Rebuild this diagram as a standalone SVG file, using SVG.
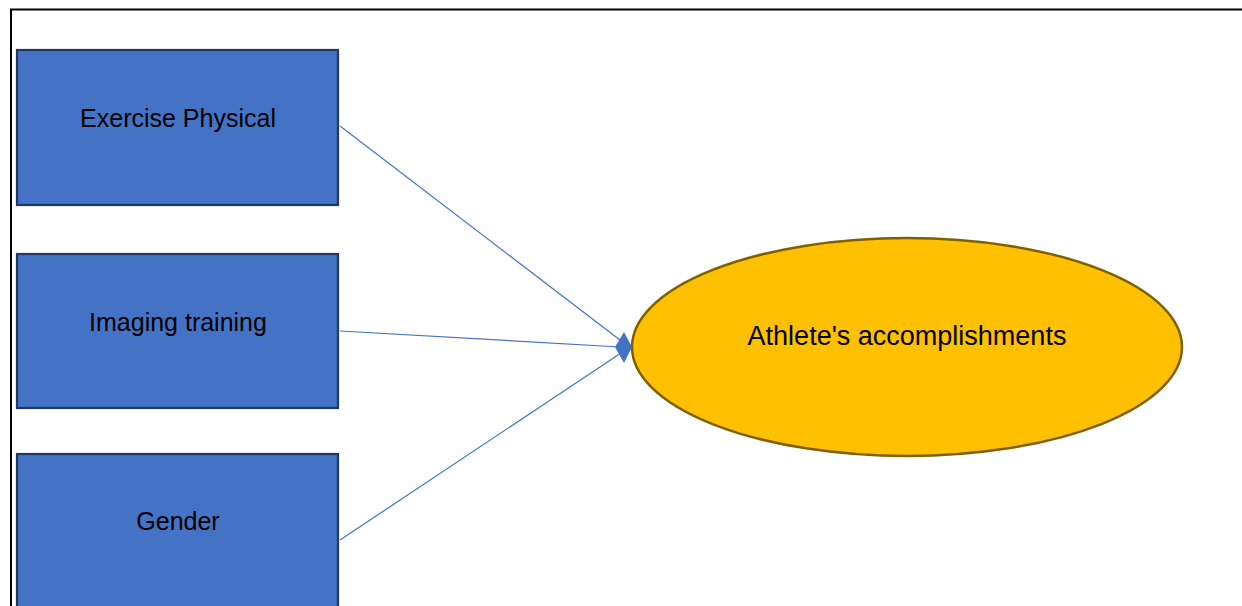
<svg xmlns="http://www.w3.org/2000/svg" width="1242" height="606" viewBox="0 0 1242 606">
<style>
.box{fill:#4472C4;stroke:#1F3864;stroke-width:2.2}
.lbl{font-family:"Liberation Sans",Arial,sans-serif;font-size:25px;fill:#000;text-anchor:middle}
.conn{stroke:#4472C4;stroke-width:1.2;fill:none}
</style>
<rect x="0" y="0" width="1242" height="606" fill="#fff"/>
<path d="M11 606 V9.5 H1242" fill="none" stroke="#000" stroke-width="2"/>
<g id="exercise">
<rect class="box" x="17" y="50" width="321" height="155"/>
<text class="lbl" x="178" y="127">Exercise Physical</text>
</g>
<g id="imaging">
<rect class="box" x="17" y="254" width="321" height="154"/>
<text class="lbl" x="178" y="331">Imaging training</text>
</g>
<g id="gender">
<rect class="box" x="17" y="454" width="321" height="160"/>
<text class="lbl" x="178" y="530">Gender</text>
</g>
<g id="connectors">
<line class="conn" x1="340" y1="126" x2="620" y2="340"/>
<line class="conn" x1="340" y1="331" x2="620" y2="347"/>
<line class="conn" x1="340" y1="540" x2="621" y2="353"/>
<polygon points="615,347 624,332 632,347 624,363" fill="#4472C4"/>
</g>
<g id="accomplishments">
<ellipse cx="907" cy="347" rx="275" ry="109" fill="#FFC000" stroke="#7F6000" stroke-width="2.5"/>
<text class="lbl" x="907" y="345" style="font-size:27px">Athlete's accomplishments</text>
</g>
</svg>
